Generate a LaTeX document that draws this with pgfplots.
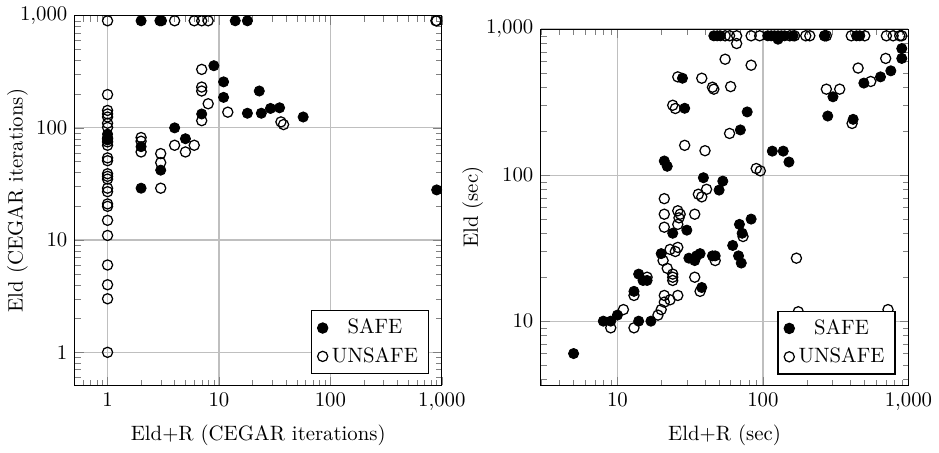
\documentclass[border=0pt]{standalone}
\usepackage{pgfplots}
\pgfplotsset{compat=1.18}
\begin{document}
\begin{tikzpicture}
\begin{axis}[
  scale only axis,
  xmode=log, ymode=log,
  log ticks with fixed point,
  grid=major,
  major grid style={black!25, line width=0.6pt},
  legend style={at={(0.965,0.03)}, anchor=south east, draw=black, fill=white, line width=0.6pt, row sep=1pt},
  legend cell align=center,
  at={(0pt,0pt)}, anchor=south west,
  width=176.7pt, height=178pt,
  xmin=0.507, xmax=1000, ymin=0.507, ymax=1000,
  xlabel={Eld+R (CEGAR iterations)},
  ylabel={Eld (CEGAR iterations)},
  ylabel style={at={(axis description cs:-0.108,0.5)}, anchor=south},
]
\addplot[only marks, mark=*, mark size=2.45pt, mark options={draw=black, fill=black}] coordinates {
(2,900) (2.95,900) (3.05,900) (14,900) (18,900)
(9,358) (11,257) (11,187) (23,213) (7,133) (18,135) (24,135) (29,149) (35,151) (57,125)
(4,100) (5,80) (2,68) (3,42) (2,29) (900,28) (1,88) (1,82) (1,78)
};
\addlegendentry{SAFE}
\addplot[only marks, mark=o, mark size=2.45pt, mark options={draw=black, line width=0.6pt}] coordinates {
(1,900) (4,900) (6,900) (7,900) (8,900) (900,900) (885,900)
(7,332) (7,231) (7,213) (8,164) (12,138) (7,116) (36,113) (38,107)
(4,70) (5,61) (6,70) (3,59) (3,49) (3,29) (2,82) (2,76) (2,61)
(1,198) (1,143) (1,133) (1,125) (1,110) (1,101) (1,80) (1,75) (1,70) (1,54) (1,51)
(1,39) (1,37) (1,35) (1,29) (1,27) (1,21) (1,20) (1,15) (1,11) (1,6) (1,4) (1,3) (1,1)
};
\addlegendentry{UNSAFE}
\end{axis}
\begin{axis}[
  scale only axis,
  xmode=log, ymode=log,
  log ticks with fixed point,
  grid=major,
  major grid style={black!25, line width=0.6pt},
  legend style={at={(0.965,0.03)}, anchor=south east, draw=black, fill=white, line width=0.6pt, row sep=1pt},
  legend cell align=center,
  at={(224.3pt,0pt)}, anchor=south west,
  width=177pt, height=171.5pt,
  xmin=2.97, xmax=1000, ymin=3.63, ymax=1000,
  xlabel={Eld+R (sec)},
  ylabel={Eld (sec)},
  ylabel style={at={(axis description cs:-0.137,0.5)}, anchor=south},
]
\addplot[only marks, mark=*, mark size=2.45pt, mark options={draw=black, fill=black}] coordinates {
(46,900) (48.5,900) (51,900) (108,900) (114,900) (120,900) (127,900) (134,900) (141,900) (161,900)
(127,853) (440,900) (463,900) (265,900)
(900,736) (900,630) (757,518) (643,471) (494,427) (303,344) (279,254) (417,241)
(116,146) (138,146) (151,123) (78,271) (70,204) (28,461) (29,287) (21,125) (22,115)
(39,96) (53,91) (50,79) (83,50) (69,46) (72,40) (62,33) (68,28) (71,25)
(24,40) (30,42) (20,29) (31,27) (34,26) (35,28) (37,29) (45,28) (47,28) (38,17)
(14,21) (15,19) (16,19) (13,16) (8,10) (9,10) (10,11) (14,10) (17,10) (5,6)
};
\addlegendentry{SAFE}
\addplot[only marks, mark=o, mark size=2.45pt, mark options={draw=black, line width=0.6pt}] coordinates {
(55,900) (59,900) (66,900) (83,900) (95,900) (153,900) (165,900) (197,900) (210,900)
(266,900) (273,900) (405,900) (501,900) (706,900) (785,900) (872,900) (900,900)
(66,797) (55,622) (83,566) (698,630) (451,541) (551,438) (273,388) (337,388) (410,226)
(59,193) (60,404) (45,400) (46,388) (38,461) (26,471) (24,301) (25,286) (29,160) (40,147)
(90,111) (96,107) (170,27) (724,12) (175,11.6)
(21,69) (26,57) (27,54) (21,54) (34,54) (21,44) (26,46) (26.5,51) (36,74) (38,71) (41,80)
(23,31) (26,32) (25,30) (20.6,26) (22,23) (24,21) (24,20) (24,19) (34,20) (37,16) (47,26) (73,38)
(16,20) (13,15) (21,15) (23,14) (26,15) (21,13.5) (20,12) (19,11) (11,12) (9,9) (13,9)
};
\addlegendentry{UNSAFE}
\end{axis}
\end{tikzpicture}
\end{document}
